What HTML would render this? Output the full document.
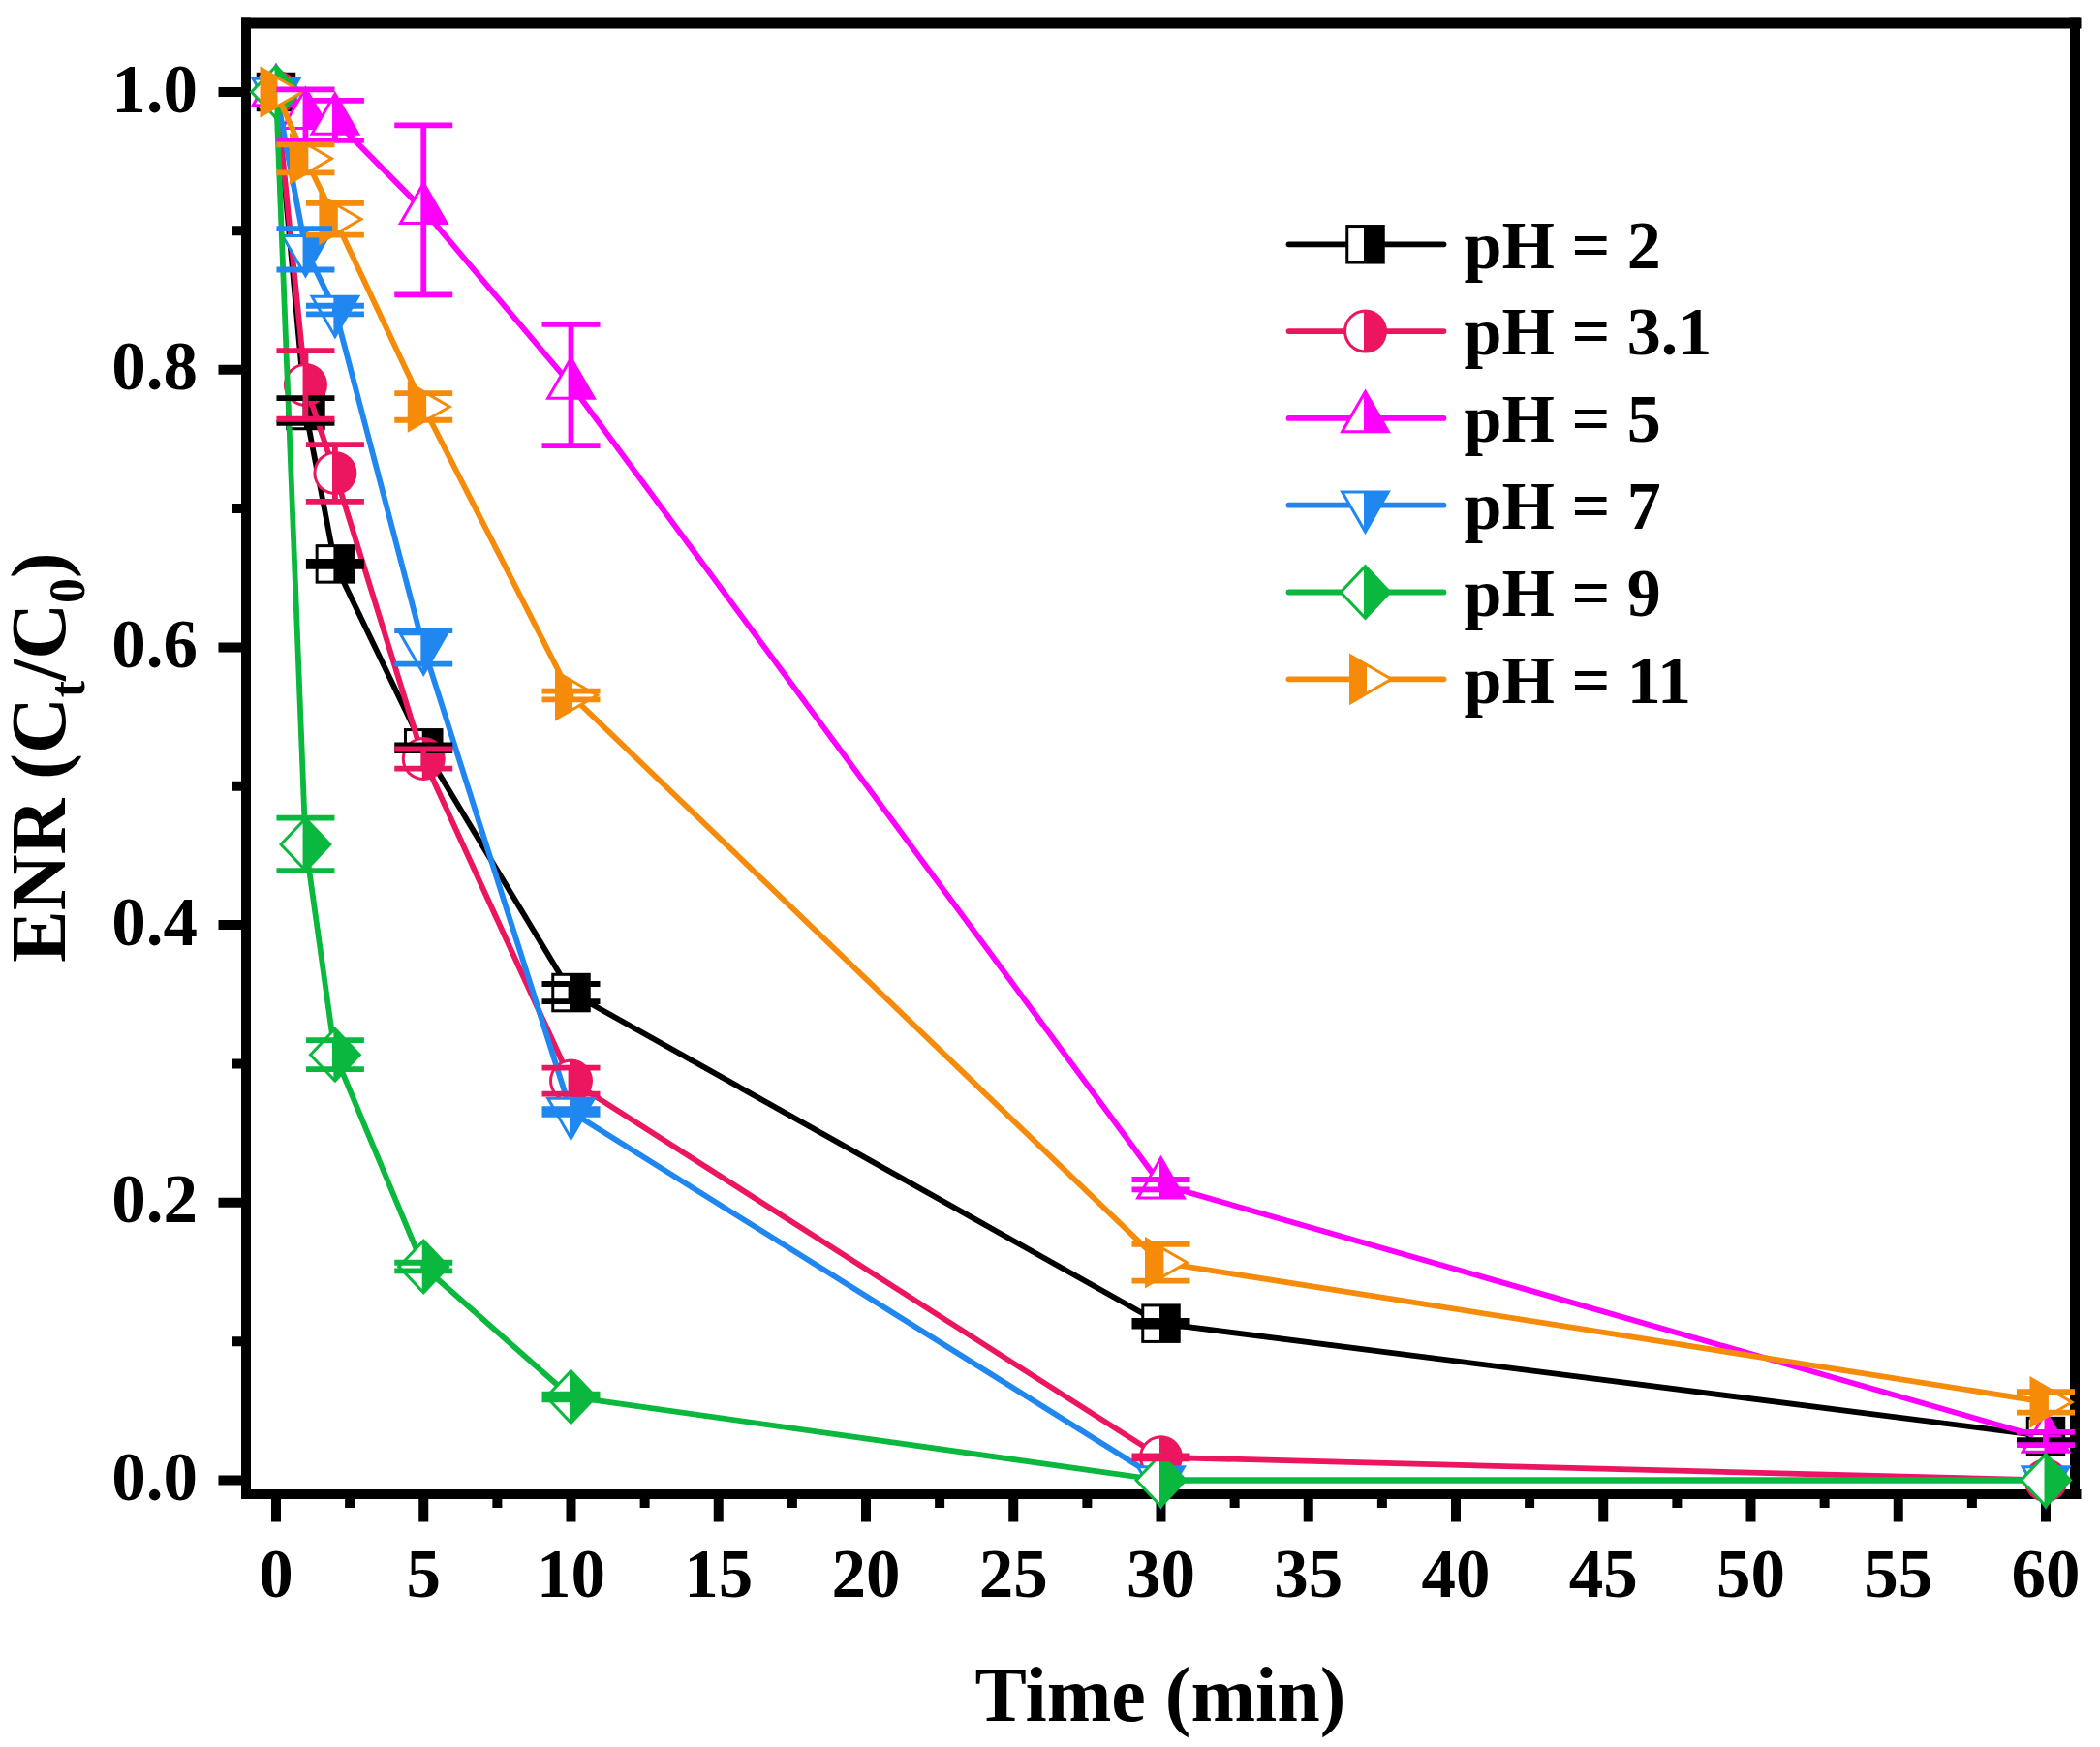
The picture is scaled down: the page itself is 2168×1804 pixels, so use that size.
<!DOCTYPE html>
<html lang="en"><head><meta charset="utf-8"><title>ENR degradation at different pH</title>
<style>html,body{margin:0;padding:0;background:#fff;}svg{display:block;}text{font-family:'Liberation Serif', 'Times New Roman', Times, serif;font-weight:bold;fill:#000;}</style>
</head><body>
<svg width="2168" height="1804" viewBox="0 0 2168 1804">
<rect x="0" y="0" width="2168" height="1804" fill="#fff"/>
<g id="frame" stroke="#000" fill="none">
<path d="M249,24 H2148.5" stroke-width="11"/>
<path d="M249,1543 H2148.5 M254,18.5 V1548 M2142,18.5 V1548" stroke-width="10"/>
<path d="M285,1547 v24.5 M361.12,1547 v10 M437.25,1547 v24.5 M513.38,1547 v10 M589.5,1547 v24.5 M665.62,1547 v10 M741.75,1547 v24.5 M817.88,1547 v10 M894,1547 v24.5 M970.12,1547 v10 M1046.25,1547 v24.5 M1122.38,1547 v10 M1198.5,1547 v24.5 M1274.62,1547 v10 M1350.75,1547 v24.5 M1426.88,1547 v10 M1503,1547 v24.5 M1579.12,1547 v10 M1655.25,1547 v24.5 M1731.38,1547 v10 M1807.5,1547 v24.5 M1883.62,1547 v10 M1959.75,1547 v24.5 M2035.88,1547 v10 M2112,1547 v24.5 M250,1528.5 h-24.5 M250,1385.15 h-10 M250,1241.8 h-24.5 M250,1098.45 h-10 M250,955.1 h-24.5 M250,811.75 h-10 M250,668.4 h-24.5 M250,525.05 h-10 M250,381.7 h-24.5 M250,238.35 h-10 M250,95 h-24.5" stroke-width="10"/>
</g>
<g id="xticklabels" font-size="71" text-anchor="middle">
<text x="285" y="1649">0</text>
<text x="437.25" y="1649">5</text>
<text x="589.5" y="1649">10</text>
<text x="741.75" y="1649">15</text>
<text x="894" y="1649">20</text>
<text x="1046.25" y="1649">25</text>
<text x="1198.5" y="1649">30</text>
<text x="1350.75" y="1649">35</text>
<text x="1503" y="1649">40</text>
<text x="1655.25" y="1649">45</text>
<text x="1807.5" y="1649">50</text>
<text x="1959.75" y="1649">55</text>
<text x="2112" y="1649">60</text>
</g>
<g id="yticklabels" font-size="71" text-anchor="end">
<text x="204" y="1549">0.0</text>
<text x="204" y="1262.3">0.2</text>
<text x="204" y="975.6">0.4</text>
<text x="204" y="688.9">0.6</text>
<text x="204" y="402.2">0.8</text>
<text x="204" y="115.5">1.0</text>
</g>
<text id="xtitle" x="1198" y="1777" font-size="80" text-anchor="middle">Time (min)</text>
<text id="ytitle" transform="translate(66.5,782) rotate(-90)" font-size="80" text-anchor="middle">ENR (C<tspan font-size="52" dy="20">t</tspan><tspan dy="-20">/C</tspan><tspan font-size="52" dy="20">0</tspan><tspan dy="-20">)</tspan></text>
<g class="series">
<polyline points="285,95 315.45,423.99 345.9,582.39 437.25,772.33 589.5,1025.05 1198.5,1366.66 2112,1483.06" fill="none" stroke="#000000" stroke-width="5.8" stroke-linejoin="round"/>
<g transform="translate(285,95)"><rect x="-20.25" y="-20.25" width="40.5" height="40.5" fill="#000000"/><rect x="-17.25" y="-17.25" width="15.75" height="34.5" fill="#fff"/></g>
<g transform="translate(315.45,423.99)"><rect x="-20.25" y="-20.25" width="40.5" height="40.5" fill="#000000"/><rect x="-17.25" y="-17.25" width="15.75" height="34.5" fill="#fff"/></g>
<g transform="translate(345.9,582.39)"><rect x="-20.25" y="-20.25" width="40.5" height="40.5" fill="#000000"/><rect x="-17.25" y="-17.25" width="15.75" height="34.5" fill="#fff"/></g>
<g transform="translate(437.25,772.33)"><rect x="-20.25" y="-20.25" width="40.5" height="40.5" fill="#000000"/><rect x="-17.25" y="-17.25" width="15.75" height="34.5" fill="#fff"/></g>
<g transform="translate(589.5,1025.05)"><rect x="-20.25" y="-20.25" width="40.5" height="40.5" fill="#000000"/><rect x="-17.25" y="-17.25" width="15.75" height="34.5" fill="#fff"/></g>
<g transform="translate(1198.5,1366.66)"><rect x="-20.25" y="-20.25" width="40.5" height="40.5" fill="#000000"/><rect x="-17.25" y="-17.25" width="15.75" height="34.5" fill="#fff"/></g>
<g transform="translate(2112,1483.06)"><rect x="-20.25" y="-20.25" width="40.5" height="40.5" fill="#000000"/><rect x="-17.25" y="-17.25" width="15.75" height="34.5" fill="#fff"/></g>
</g>
<g class="series">
<polyline points="285,95 315.45,397.47 345.9,488.5 437.25,783.51 589.5,1116.08 1198.5,1504.85 2112,1528.5" fill="none" stroke="#EC1560" stroke-width="5.8" stroke-linejoin="round"/>
<g transform="translate(285,95)"><circle r="22.5" fill="#EC1560"/><path d="M-1.5,-19.44 A19.5,19.5 0 0 0 -1.5,19.44 Z" fill="#fff"/></g>
<g transform="translate(315.45,397.47)"><circle r="22.5" fill="#EC1560"/><path d="M-1.5,-19.44 A19.5,19.5 0 0 0 -1.5,19.44 Z" fill="#fff"/></g>
<g transform="translate(345.9,488.5)"><circle r="22.5" fill="#EC1560"/><path d="M-1.5,-19.44 A19.5,19.5 0 0 0 -1.5,19.44 Z" fill="#fff"/></g>
<g transform="translate(437.25,783.51)"><circle r="22.5" fill="#EC1560"/><path d="M-1.5,-19.44 A19.5,19.5 0 0 0 -1.5,19.44 Z" fill="#fff"/></g>
<g transform="translate(589.5,1116.08)"><circle r="22.5" fill="#EC1560"/><path d="M-1.5,-19.44 A19.5,19.5 0 0 0 -1.5,19.44 Z" fill="#fff"/></g>
<g transform="translate(1198.5,1504.85)"><circle r="22.5" fill="#EC1560"/><path d="M-1.5,-19.44 A19.5,19.5 0 0 0 -1.5,19.44 Z" fill="#fff"/></g>
<g transform="translate(2112,1528.5)"><circle r="22.5" fill="#EC1560"/><path d="M-1.5,-19.44 A19.5,19.5 0 0 0 -1.5,19.44 Z" fill="#fff"/></g>
</g>
<g class="series">
<polyline points="285,95 315.45,118.65 345.9,124.39 437.25,216.85 589.5,397.47 1198.5,1223.16 2112,1485.49" fill="none" stroke="#FF00FF" stroke-width="5.8" stroke-linejoin="round"/>
<g transform="translate(285,95)"><polygon points="0,-30.5 26.41,15.25 -26.41,15.25" fill="#FF00FF"/><polygon points="-1.5,-21.9 -21.22,12.25 -1.5,12.25" fill="#fff"/></g>
<g transform="translate(315.45,118.65)"><polygon points="0,-30.5 26.41,15.25 -26.41,15.25" fill="#FF00FF"/><polygon points="-1.5,-21.9 -21.22,12.25 -1.5,12.25" fill="#fff"/></g>
<g transform="translate(345.9,124.39)"><polygon points="0,-30.5 26.41,15.25 -26.41,15.25" fill="#FF00FF"/><polygon points="-1.5,-21.9 -21.22,12.25 -1.5,12.25" fill="#fff"/></g>
<g transform="translate(437.25,216.85)"><polygon points="0,-30.5 26.41,15.25 -26.41,15.25" fill="#FF00FF"/><polygon points="-1.5,-21.9 -21.22,12.25 -1.5,12.25" fill="#fff"/></g>
<g transform="translate(589.5,397.47)"><polygon points="0,-30.5 26.41,15.25 -26.41,15.25" fill="#FF00FF"/><polygon points="-1.5,-21.9 -21.22,12.25 -1.5,12.25" fill="#fff"/></g>
<g transform="translate(1198.5,1223.16)"><polygon points="0,-30.5 26.41,15.25 -26.41,15.25" fill="#FF00FF"/><polygon points="-1.5,-21.9 -21.22,12.25 -1.5,12.25" fill="#fff"/></g>
<g transform="translate(2112,1485.49)"><polygon points="0,-30.5 26.41,15.25 -26.41,15.25" fill="#FF00FF"/><polygon points="-1.5,-21.9 -21.22,12.25 -1.5,12.25" fill="#fff"/></g>
</g>
<g class="series">
<polyline points="285,95 315.45,257.27 345.9,320.06 437.25,668.4 589.5,1148.05 1198.5,1528.5 2112,1528.5" fill="none" stroke="#2187F0" stroke-width="5.8" stroke-linejoin="round"/>
<g transform="translate(285,95)"><polygon points="0,30.5 26.41,-15.25 -26.41,-15.25" fill="#2187F0"/><polygon points="-1.5,21.9 -21.22,-12.25 -1.5,-12.25" fill="#fff"/></g>
<g transform="translate(315.45,257.27)"><polygon points="0,30.5 26.41,-15.25 -26.41,-15.25" fill="#2187F0"/><polygon points="-1.5,21.9 -21.22,-12.25 -1.5,-12.25" fill="#fff"/></g>
<g transform="translate(345.9,320.06)"><polygon points="0,30.5 26.41,-15.25 -26.41,-15.25" fill="#2187F0"/><polygon points="-1.5,21.9 -21.22,-12.25 -1.5,-12.25" fill="#fff"/></g>
<g transform="translate(437.25,668.4)"><polygon points="0,30.5 26.41,-15.25 -26.41,-15.25" fill="#2187F0"/><polygon points="-1.5,21.9 -21.22,-12.25 -1.5,-12.25" fill="#fff"/></g>
<g transform="translate(589.5,1148.05)"><polygon points="0,30.5 26.41,-15.25 -26.41,-15.25" fill="#2187F0"/><polygon points="-1.5,21.9 -21.22,-12.25 -1.5,-12.25" fill="#fff"/></g>
<g transform="translate(1198.5,1528.5)"><polygon points="0,30.5 26.41,-15.25 -26.41,-15.25" fill="#2187F0"/><polygon points="-1.5,21.9 -21.22,-12.25 -1.5,-12.25" fill="#fff"/></g>
<g transform="translate(2112,1528.5)"><polygon points="0,30.5 26.41,-15.25 -26.41,-15.25" fill="#2187F0"/><polygon points="-1.5,21.9 -21.22,-12.25 -1.5,-12.25" fill="#fff"/></g>
</g>
<g class="series">
<polyline points="285,95 315.45,871.96 345.9,1089.13 437.25,1308.03 589.5,1442.49 1198.5,1528.5 2112,1528.5" fill="none" stroke="#09B83C" stroke-width="5.8" stroke-linejoin="round"/>
<g transform="translate(285,95)"><polygon points="-27.5,0 0,-29 27.5,0 0,29" fill="#09B83C"/><polygon points="-23.37,0 -1.5,-23.06 -1.5,23.06" fill="#fff"/></g>
<g transform="translate(315.45,871.96)"><polygon points="-27.5,0 0,-29 27.5,0 0,29" fill="#09B83C"/><polygon points="-23.37,0 -1.5,-23.06 -1.5,23.06" fill="#fff"/></g>
<g transform="translate(345.9,1089.13)"><polygon points="-27.5,0 0,-29 27.5,0 0,29" fill="#09B83C"/><polygon points="-23.37,0 -1.5,-23.06 -1.5,23.06" fill="#fff"/></g>
<g transform="translate(437.25,1308.03)"><polygon points="-27.5,0 0,-29 27.5,0 0,29" fill="#09B83C"/><polygon points="-23.37,0 -1.5,-23.06 -1.5,23.06" fill="#fff"/></g>
<g transform="translate(589.5,1442.49)"><polygon points="-27.5,0 0,-29 27.5,0 0,29" fill="#09B83C"/><polygon points="-23.37,0 -1.5,-23.06 -1.5,23.06" fill="#fff"/></g>
<g transform="translate(1198.5,1528.5)"><polygon points="-27.5,0 0,-29 27.5,0 0,29" fill="#09B83C"/><polygon points="-23.37,0 -1.5,-23.06 -1.5,23.06" fill="#fff"/></g>
<g transform="translate(2112,1528.5)"><polygon points="-27.5,0 0,-29 27.5,0 0,29" fill="#09B83C"/><polygon points="-23.37,0 -1.5,-23.06 -1.5,23.06" fill="#fff"/></g>
</g>
<g class="series">
<polyline points="285,95 315.45,163.81 345.9,226.31 437.25,419.97 589.5,718 1198.5,1303.73 2112,1447.94" fill="none" stroke="#F58B09" stroke-width="5.8" stroke-linejoin="round"/>
<g transform="translate(285,95)"><polygon points="30,0 -16.5,26.85 -16.5,-26.85" fill="#F58B09"/><polygon points="24,0 1.5,12.99 1.5,-12.99" fill="#fff"/></g>
<g transform="translate(315.45,163.81)"><polygon points="30,0 -16.5,26.85 -16.5,-26.85" fill="#F58B09"/><polygon points="24,0 1.5,12.99 1.5,-12.99" fill="#fff"/></g>
<g transform="translate(345.9,226.31)"><polygon points="30,0 -16.5,26.85 -16.5,-26.85" fill="#F58B09"/><polygon points="24,0 1.5,12.99 1.5,-12.99" fill="#fff"/></g>
<g transform="translate(437.25,419.97)"><polygon points="30,0 -16.5,26.85 -16.5,-26.85" fill="#F58B09"/><polygon points="24,0 1.5,12.99 1.5,-12.99" fill="#fff"/></g>
<g transform="translate(589.5,718)"><polygon points="30,0 -16.5,26.85 -16.5,-26.85" fill="#F58B09"/><polygon points="24,0 1.5,12.99 1.5,-12.99" fill="#fff"/></g>
<g transform="translate(1198.5,1303.73)"><polygon points="30,0 -16.5,26.85 -16.5,-26.85" fill="#F58B09"/><polygon points="24,0 1.5,12.99 1.5,-12.99" fill="#fff"/></g>
<g transform="translate(2112,1447.94)"><polygon points="30,0 -16.5,26.85 -16.5,-26.85" fill="#F58B09"/><polygon points="24,0 1.5,12.99 1.5,-12.99" fill="#fff"/></g>
</g>
<path class="err" d="M315.45,411.09 V436.89 M285.45,411.09 h60 M285.45,436.89 h60 M345.9,579.95 V584.83 M315.9,579.95 h60 M315.9,584.83 h60 M437.25,769.46 V775.2 M407.25,769.46 h60 M407.25,775.2 h60 M589.5,1016.02 V1034.09 M559.5,1016.02 h60 M559.5,1034.09 h60 M1198.5,1363.79 V1369.52 M1168.5,1363.79 h60 M1168.5,1369.52 h60 M2112,1479.04 V1487.07 M2082,1479.04 h60 M2082,1487.07 h60" fill="none" stroke="#000000" stroke-width="5.8"/>
<path class="err" d="M315.45,362.2 V432.73 M285.45,362.2 h60 M285.45,432.73 h60 M345.9,459.11 V517.88 M315.9,459.11 h60 M315.9,517.88 h60 M437.25,773.48 V793.54 M407.25,773.48 h60 M407.25,793.54 h60 M589.5,1102.61 V1129.56 M559.5,1102.61 h60 M559.5,1129.56 h60 M1198.5,1503.41 V1506.28 M1168.5,1503.41 h60 M1168.5,1506.28 h60" fill="none" stroke="#EC1560" stroke-width="5.8"/>
<path class="err" d="M315.45,92.28 V145.03 M285.45,92.28 h60 M285.45,145.03 h60 M345.9,103.89 V144.89 M315.9,103.89 h60 M315.9,144.89 h60 M437.25,129.4 V304.29 M407.25,129.4 h60 M407.25,304.29 h60 M589.5,334.82 V460.11 M559.5,334.82 h60 M559.5,460.11 h60 M1198.5,1218 V1228.33 M1168.5,1218 h60 M1168.5,1228.33 h60 M2112,1478.9 V1492.09 M2082,1478.9 h60 M2082,1492.09 h60" fill="none" stroke="#FF00FF" stroke-width="5.8"/>
<path class="err" d="M315.45,236.06 V278.49 M285.45,236.06 h60 M285.45,278.49 h60 M345.9,315.76 V324.36 M315.9,315.76 h60 M315.9,324.36 h60 M437.25,651.2 V685.6 M407.25,651.2 h60 M407.25,685.6 h60 M589.5,1145.18 V1150.92 M559.5,1145.18 h60 M559.5,1150.92 h60" fill="none" stroke="#2187F0" stroke-width="5.8"/>
<path class="err" d="M315.45,844.72 V899.19 M285.45,844.72 h60 M285.45,899.19 h60 M345.9,1074.08 V1104.18 M315.9,1074.08 h60 M315.9,1104.18 h60 M437.25,1303.73 V1312.33 M407.25,1303.73 h60 M407.25,1312.33 h60 M589.5,1439.62 V1445.36 M559.5,1439.62 h60 M559.5,1445.36 h60" fill="none" stroke="#09B83C" stroke-width="5.8"/>
<path class="err" d="M315.45,149.33 V178.29 M285.45,149.33 h60 M285.45,178.29 h60 M345.9,209.97 V242.65 M315.9,209.97 h60 M315.9,242.65 h60 M437.25,406.21 V433.74 M407.25,406.21 h60 M407.25,433.74 h60 M589.5,713.7 V722.3 M559.5,713.7 h60 M559.5,722.3 h60 M1198.5,1284.81 V1322.65 M1168.5,1284.81 h60 M1168.5,1322.65 h60 M2112,1437.19 V1458.69 M2082,1437.19 h60 M2082,1458.69 h60" fill="none" stroke="#F58B09" stroke-width="5.8"/>
<g id="legend" font-size="70">
<line x1="1330.5" y1="252.3" x2="1490.5" y2="252.3" stroke="#000000" stroke-width="5.8" stroke-linecap="round"/>
<g transform="translate(1409.5,252.3)"><rect x="-20.25" y="-20.25" width="40.5" height="40.5" fill="#000000"/><rect x="-17.25" y="-17.25" width="15.75" height="34.5" fill="#fff"/></g>
<text x="1511.5" y="276.5">pH = 2</text>
<line x1="1330.5" y1="342.1" x2="1490.5" y2="342.1" stroke="#EC1560" stroke-width="5.8" stroke-linecap="round"/>
<g transform="translate(1409.5,342.1)"><circle r="22.5" fill="#EC1560"/><path d="M-1.5,-19.44 A19.5,19.5 0 0 0 -1.5,19.44 Z" fill="#fff"/></g>
<text x="1511.5" y="366.3">pH = 3.1</text>
<line x1="1330.5" y1="431.9" x2="1490.5" y2="431.9" stroke="#FF00FF" stroke-width="5.8" stroke-linecap="round"/>
<g transform="translate(1409.5,431.9)"><polygon points="0,-30.5 26.41,15.25 -26.41,15.25" fill="#FF00FF"/><polygon points="-1.5,-21.9 -21.22,12.25 -1.5,12.25" fill="#fff"/></g>
<text x="1511.5" y="456.1">pH = 5</text>
<line x1="1330.5" y1="521.7" x2="1490.5" y2="521.7" stroke="#2187F0" stroke-width="5.8" stroke-linecap="round"/>
<g transform="translate(1409.5,521.7)"><polygon points="0,30.5 26.41,-15.25 -26.41,-15.25" fill="#2187F0"/><polygon points="-1.5,21.9 -21.22,-12.25 -1.5,-12.25" fill="#fff"/></g>
<text x="1511.5" y="545.9">pH = 7</text>
<line x1="1330.5" y1="611.5" x2="1490.5" y2="611.5" stroke="#09B83C" stroke-width="5.8" stroke-linecap="round"/>
<g transform="translate(1409.5,611.5)"><polygon points="-27.5,0 0,-29 27.5,0 0,29" fill="#09B83C"/><polygon points="-23.37,0 -1.5,-23.06 -1.5,23.06" fill="#fff"/></g>
<text x="1511.5" y="635.7">pH = 9</text>
<line x1="1330.5" y1="701.3" x2="1490.5" y2="701.3" stroke="#F58B09" stroke-width="5.8" stroke-linecap="round"/>
<g transform="translate(1409.5,701.3)"><polygon points="30,0 -16.5,26.85 -16.5,-26.85" fill="#F58B09"/><polygon points="24,0 1.5,12.99 1.5,-12.99" fill="#fff"/></g>
<text x="1511.5" y="725.5">pH = 11</text>
</g>
</svg></body></html>
